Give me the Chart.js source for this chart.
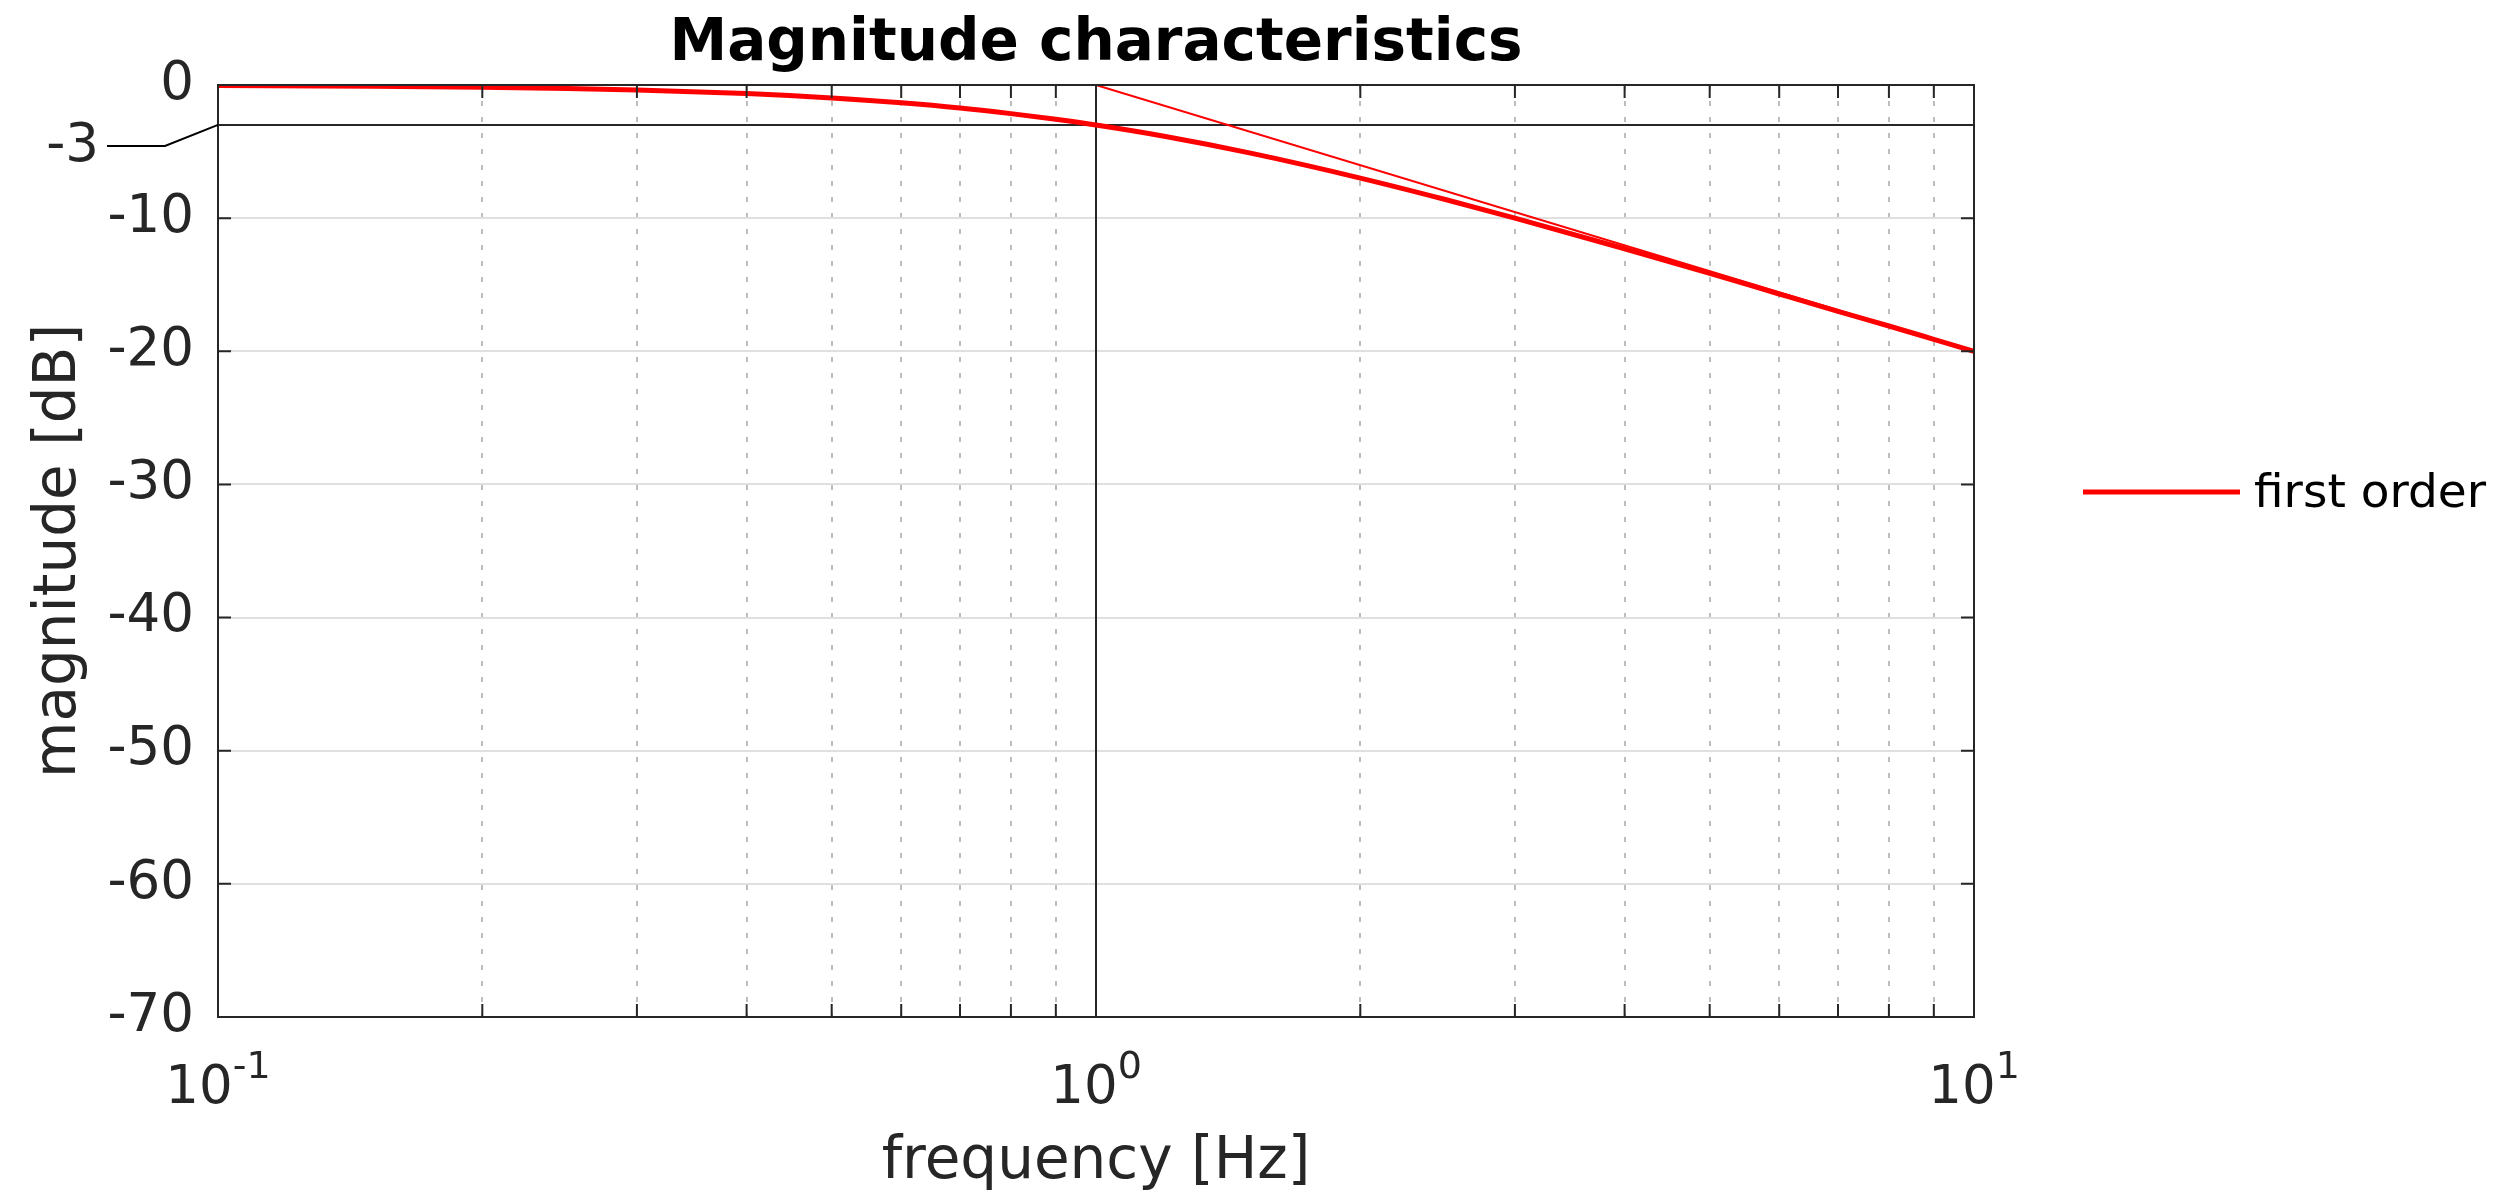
<!DOCTYPE html>
<html>
<head>
<meta charset="utf-8">
<script src="https://cdn.jsdelivr.net/npm/chart.js@4.4.0/dist/chart.umd.min.js"></script>
<style>
  html, body { margin: 0; padding: 0; background: #fff; }
</style>
</head>
<body>
<canvas id="magChart" width="2512" height="1198"></canvas>
<script>
// ==========================
// Data
// ==========================
const freqHz = [0.1, 0.15, 0.2, 0.25, 0.3, 0.4, 0.5, 0.6, 0.7, 0.8, 0.9, 1, 1.2, 1.5, 2, 2.5, 3, 4, 5, 6, 7, 8, 9, 10];
const magDb = [-0.04, -0.1, -0.17, -0.26, -0.37, -0.64, -0.97, -1.34, -1.73, -2.15, -2.58, -3.01, -3.87, -5.12, -6.99, -8.6, -10.0, -12.3, -14.15, -15.7, -17.0, -18.1, -19.1, -20.0];

const asymFreq = [1, 10];
const asymDb = [0, -20];

const cutoffFreq = [0.1, 10];
const cutoffDb = [-3, -3];

const cornerFreq = [1, 1];
const cornerDb = [0, -70];

const yTickVals = [0, -10, -20, -30, -40, -50, -60, -70];
const xGridVals = [0.1, 0.2, 0.3, 0.4, 0.5, 0.6, 0.7, 0.8, 0.9, 1, 2, 3, 4, 5, 6, 7, 8, 9, 10];
const xLabelVals = [0.1, 1, 10];
const xLabelExps = ["-1", "0", "1"];

const seriesName = "first order";
const chartTitle = "Magnitude characteristics";
const xTitle = "frequency [Hz]";
const yTitle = "magnitude [dB]";

const FONT = "'DejaVu Sans', sans-serif";
const INK = "#262626";
const RED = "#ff0000";

const toPoints = (xs, ys) => xs.map((v, i) => ({ x: v, y: ys[i] }));

// ==========================
// Box, inner ticks and texts
// ==========================
const decorPlugin = {
  id: "decor",
  afterDraw(chart) {
    const { ctx, chartArea: a, scales: { x, y } } = chart;
    ctx.save();

    // box
    ctx.strokeStyle = INK;
    ctx.lineWidth = 2;
    ctx.strokeRect(a.left, a.top, a.right - a.left, a.bottom - a.top);

    // inward ticks
    ctx.beginPath();
    yTickVals.forEach((v) => {
      const py = y.getPixelForValue(v);
      ctx.moveTo(a.left, py); ctx.lineTo(a.left + 13, py);
      ctx.moveTo(a.right, py); ctx.lineTo(a.right - 13, py);
    });
    xGridVals.forEach((v) => {
      const px = x.getPixelForValue(v);
      ctx.moveTo(px, a.bottom); ctx.lineTo(px, a.bottom - 13);
      ctx.moveTo(px, a.top); ctx.lineTo(px, a.top + 13);
    });
    ctx.stroke();

    ctx.fillStyle = INK;

    // x tick labels, 10 with superscript exponent
    xLabelVals.forEach((v, i) => {
      const px = x.getPixelForValue(v);
      ctx.font = `53px ${FONT}`;
      const wb = ctx.measureText("10").width;
      ctx.font = `38px ${FONT}`;
      const we = ctx.measureText(xLabelExps[i]).width;
      const left = px - (wb + we) / 2;
      ctx.textAlign = "left";
      ctx.textBaseline = "alphabetic";
      ctx.font = `53px ${FONT}`;
      ctx.fillText("10", left, a.bottom + 86);
      ctx.font = `38px ${FONT}`;
      ctx.fillText(xLabelExps[i], left + wb, a.bottom + 61);
    });

    // -3 label with its leader line
    const y3 = y.getPixelForValue(-3);
    ctx.font = `53px ${FONT}`;
    ctx.textAlign = "right";
    ctx.textBaseline = "middle";
    ctx.fillText("-3", 99, y3 + 22);
    ctx.strokeStyle = "#000";
    ctx.beginPath();
    ctx.moveTo(107, y3 + 21);
    ctx.lineTo(165, y3 + 21);
    ctx.lineTo(a.left, y3);
    ctx.stroke();

    // axis titles
    ctx.textAlign = "center";
    ctx.textBaseline = "middle";
    ctx.font = `58px ${FONT}`;
    ctx.fillText(xTitle, (a.left + a.right) / 2, 1163);
    ctx.save();
    ctx.translate(60, (a.top + a.bottom) / 2);
    ctx.rotate(-Math.PI / 2);
    ctx.fillText(yTitle, 0, 0);
    ctx.restore();

    // chart title
    ctx.fillStyle = "#000";
    ctx.font = `bold 58px ${FONT}`;
    ctx.textBaseline = "alphabetic";
    ctx.fillText(chartTitle, (a.left + a.right) / 2, 60);

    // legend
    ctx.strokeStyle = RED;
    ctx.lineWidth = 5;
    ctx.beginPath();
    ctx.moveTo(2083, 492);
    ctx.lineTo(2240, 492);
    ctx.stroke();
    ctx.fillStyle = "#000";
    ctx.font = `47px ${FONT}`;
    ctx.textAlign = "left";
    ctx.textBaseline = "middle";
    ctx.fillText(seriesName, 2254, 495);

    ctx.restore();
  },
};

// ==========================
// Chart
// ==========================
const ctx = document.getElementById("magChart").getContext("2d");

new Chart(ctx, {
  type: "line",
  data: {
    datasets: [
      {
        label: seriesName,
        data: toPoints(freqHz, magDb),
        borderColor: RED,
        borderWidth: 5,
        pointRadius: 0,
        cubicInterpolationMode: "monotone",
      },
      {
        label: "asymptote",
        data: toPoints(asymFreq, asymDb),
        borderColor: RED,
        borderWidth: 2,
        pointRadius: 0,
      },
      {
        label: "-3 dB",
        data: toPoints(cutoffFreq, cutoffDb),
        borderColor: INK,
        borderWidth: 2,
        pointRadius: 0,
      },
      {
        label: "corner",
        data: toPoints(cornerFreq, cornerDb),
        borderColor: INK,
        borderWidth: 2,
        pointRadius: 0,
      },
    ],
  },
  options: {
    responsive: false,
    animation: false,
    layout: { padding: { top: 85, right: 538, left: 0, bottom: 0 } },
    plugins: {
      legend: { display: false },
      title: { display: false },
      tooltip: { enabled: false },
    },
    scales: {
      x: {
        type: "logarithmic",
        min: 0.1,
        max: 10,
        afterBuildTicks: (scale) => {
          scale.ticks = xGridVals.map((v) => ({ value: v }));
        },
        afterFit: (scale) => { scale.height = 181; },
        ticks: { display: false },
        border: { display: false, dash: [5, 11] },
        grid: {
          drawTicks: false,
          lineWidth: 2,
          color: (c) => (xLabelVals.includes(c.tick && c.tick.value) ? "rgba(0,0,0,0)" : "#bdbdbd"),
        },
      },
      y: {
        min: -70,
        max: 0,
        afterBuildTicks: (scale) => {
          scale.ticks = yTickVals.map((v) => ({ value: v }));
        },
        afterFit: (scale) => { scale.width = 218; },
        ticks: {
          padding: 24,
          color: INK,
          font: { family: "DejaVu Sans", size: 53 },
        },
        border: { display: false },
        grid: {
          drawTicks: false,
          lineWidth: 2,
          color: "#e0e0e0",
        },
      },
    },
  },
  plugins: [decorPlugin],
});
</script>
</body>
</html>
